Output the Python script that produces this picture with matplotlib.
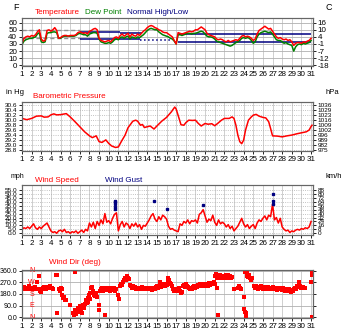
import numpy as np
import matplotlib.pyplot as plt

plt.rcParams['font.family'] = ['Liberation Sans', 'DejaVu Sans']

days = list(range(1, 32))

# temperature / dew point (F), every 0.2 day from day 1.0 to 31.0
temp_day = np.round(np.arange(1, 31.01, 0.2), 1)
temp_f = [
    31, 38, 40, 41, 40,  # 1
    42, 41, 43, 47, 50,  # 2
    37, 34, 35, 49, 50,  # 3
    48, 50, 53, 49, 38,  # 4
    39, 41, 42, 42, 41,  # 5
    42, 42, 42, 43, 46,  # 6
    47, 46, 45, 46, 44,  # 7
    48, 49, 51, 52, 50,  # 8
    38, 35, 34, 33, 34,  # 9
    35, 33, 36, 39, 40,  # 10
    38, 42, 44, 41, 43,  # 11
    45, 40, 44, 42, 41,  # 12
    44, 42, 45, 48, 50,  # 13
    53, 55, 56, 55, 53,  # 14
    52, 50, 49, 47, 46,  # 15
    46, 44, 42, 40, 35,  # 16
    30, 46, 45, 44, 45,  # 17
    46, 47, 48, 47, 48,  # 18
    50, 50, 52, 54, 52,  # 19
    50, 45, 43, 42, 41,  # 20
    40, 37, 36, 37, 36,  # 21
    34, 33, 35, 33, 34,  # 22
    35, 36, 35, 38, 41,  # 23
    42, 40, 41, 40, 38,  # 24
    35, 37, 44, 49, 51,  # 25
    53, 55, 53, 51, 52,  # 26
    48, 44, 40, 38, 39,  # 27
    37, 36, 37, 35, 36,  # 28
    33, 28, 31, 32, 32,  # 29
    31, 33, 32, 34, 35,  # 30
    38,
]
dew_f = [
    29, 34, 36, 37, 38,
    38, 39, 40, 44, 46,
    33, 32, 33, 45, 46,
    46, 47, 47, 46, 38,
    38, 40, 41, 41, 41,
    41, 41, 41, 42, 44,
    45, 44, 43, 43, 41,
    44, 45, 46, 46, 45,
    37, 33, 32, 31, 31,
    32, 31, 33, 36, 37,
    36, 39, 40, 38, 40,
    41, 37, 40, 39, 38,
    40, 39, 41, 43, 46,
    49, 51, 52, 51, 50,
    50, 47, 45, 43, 42,
    41, 40, 38, 37, 34,
    30, 43, 43, 42, 43,
    44, 45, 45, 44, 45,
    45, 46, 47, 48, 47,
    44, 41, 40, 40, 39,
    37, 34, 33, 32, 31,
    30, 29, 28, 27, 28,
    30, 32, 33, 35, 38,
    39, 38, 39, 38, 35,
    31, 33, 40, 44, 46,
    47, 48, 47, 46, 47,
    44, 40, 36, 35, 35,
    33, 31, 32, 30, 29,
    28, 20, 26, 29, 30,
    29, 31, 30, 31, 32,
    35,
]

# normal high/low segments
norm_start = [7, 11.2, 17.2]
norm_end = [11.2, 13.5, 31]
norm_high = [46.5, 45, 43.6]
normlow_start = [7, 13.2, 17.2]
normlow_end = [13.2, 16.5, 31]
norm_low = [36.6, 35.5, 33.2]
prev_start, prev_end = 1, 7
prev_high, prev_low = 49.5, 38.5

# barometric pressure (in Hg)
press_day = [1, 1.5, 2, 2.5, 3, 3.3, 3.7, 4, 4.3, 4.6, 5, 5.3, 5.6, 6, 6.5,
             7, 7.5, 8, 8.3, 8.7, 9, 9.3, 9.7, 10, 10.3, 10.7, 11, 11.3, 11.7, 12,
             12.5, 12.8, 13, 13.3, 13.5, 13.7, 14, 14.3, 14.7, 15, 15.5, 16, 16.5, 16.85, 17,
             17.3, 17.5, 17.8, 18, 18.3, 18.7, 19, 19.3, 19.6, 20, 20.3, 20.7, 21, 21.3, 21.7,
             22, 22.5, 22.8, 23, 23.2, 23.4, 23.6, 23.8, 24, 24.2, 24.5, 24.8, 25, 25.3, 25.6,
             26, 26.3, 26.6, 26.8, 27, 27.5, 28, 28.5, 29, 29.5, 30, 30.5, 30.8, 31, 31.1]
press_inhg = [30.05, 30.0, 30.05, 30.14, 30.15, 30.10, 30.11, 30.19, 30.23, 30.19, 30.20, 30.22, 30.24, 30.11, 29.92,
              29.72, 29.52, 29.36, 29.29, 29.36, 29.13, 29.10, 29.20, 29.06, 28.96, 28.90, 28.92, 29.13, 29.39, 29.68,
              29.94, 29.98, 29.94, 29.78, 29.81, 29.69, 29.72, 29.75, 29.63, 29.75, 29.94, 30.09, 30.31, 30.50, 30.42,
              30.05, 29.80, 29.78, 29.88, 29.98, 29.97, 29.98, 29.85, 29.75, 29.85, 29.82, 29.84, 29.76, 29.85, 29.98,
              30.05, 30.05, 30.11, 30.05, 29.78, 29.39, 29.13, 29.05, 29.19, 29.59, 29.98, 30.11, 30.18, 30.21, 30.14,
              30.09, 30.07, 29.92, 29.65, 29.36, 29.35, 29.32, 29.36, 29.39, 29.44, 29.48, 29.52, 29.59, 29.73, 29.78]

# wind speed (mph), every 0.2 day
wind_day = np.round(np.arange(1, 31.01, 0.2), 1)
wind_mph = [
    5, 7, 6, 8, 6,
    9, 12, 7, 5, 8,
    6, 9, 11, 13, 8,
    3, 1, 2, 0, 3,
    4, 2, 5, 1, 2,
    0, 2, 1, 3, 0,
    2, 4, 1, 5, 3,
    13, 8, 14, 6, 15,
    10, 17, 12, 25, 14,
    16, 12, 19, 24, 26,
    3, 11, 15, 8, 13,
    11, 6, 12, 9, 13,
    8, 11, 5, 10, 9,
    13, 17, 22, 25, 18,
    15, 21, 17, 23, 21,
    18, 9, 5, 6, 4,
    3, 2, 12, 10, 15,
    13, 17, 12, 16, 15,
    17, 13, 24, 26, 30,
    22, 14, 18, 16, 23,
    14, 10, 17, 12, 14,
    12, 8, 11, 6, 9,
    3, 6, 9, 14, 19,
    12, 8, 11, 6, 9,
    11, 6, 13, 17, 15,
    19, 22, 17, 23, 21,
    37, 17, 20, 13, 19,
    8, 5, 3, 4, 1,
    3, 2, 4, 5, 4,
    6, 5, 7, 6, 8,
    15,
]
gust_day = [10.6, 10.6, 10.6, 10.6, 10.6, 14.7, 16.0, 19.75, 27.1, 27.1, 27.1]
gust_mph = [41.5, 39.4, 36.9, 33.9, 31.4, 41.5, 30.5, 36, 50, 41.5, 37]

# wind direction (deg)
dir_day = [1.0, 1.1, 1.2, 1.3, 1.4, 1.5, 1.6, 1.7, 1.8, 1.9, 2.0, 2.1, 2.2, 2.3, 2.4, 2.5, 2.6, 2.7, 2.8, 2.9,
           3.0, 3.1, 3.2, 3.3, 3.4, 3.5, 3.6, 3.7, 3.8, 3.9, 4.0, 4.1, 4.2, 4.55, 4.6, 4.65, 4.8, 4.9,
           5.0, 5.1, 5.2, 5.3, 5.4, 5.5, 5.6, 6.0, 6.3, 6.35, 6.5, 6.55, 6.6, 6.7, 6.8, 6.9,
           7.0, 7.1, 7.2, 7.3, 7.4, 7.5, 7.6, 7.7, 7.8, 7.9, 8.0, 8.05, 8.1, 8.2, 8.3, 8.4, 8.5, 8.6, 8.7, 8.8,
           8.95, 9.0, 9.1, 9.2, 9.3, 9.4, 9.5, 9.6, 9.7, 9.8, 9.9, 10.0, 10.1, 10.2, 10.3, 10.4, 10.5, 10.6, 10.7, 10.8,
           11.0, 11.05, 11.2, 11.3, 11.4, 11.5, 11.6, 11.7, 11.8, 11.9, 12.0, 12.1, 12.2, 12.3, 12.4, 12.5, 12.6, 12.7,
           12.8, 12.9, 13.0, 13.1, 13.2, 13.3, 13.4, 13.5, 13.6, 13.7, 13.8, 13.9, 14.0, 14.1, 14.2, 14.3, 14.4, 14.5,
           14.6, 14.7, 14.8, 14.9, 15.0, 15.1, 15.2, 15.3, 15.4, 15.5, 15.6, 15.7, 15.8, 15.9, 16.0, 16.1, 16.2, 16.3,
           16.4, 16.5, 16.6, 16.7, 16.8,
           17.0, 17.1, 17.2, 17.3, 17.4, 17.5, 17.6, 17.7, 17.8, 17.9, 18.0, 18.1, 18.2, 18.3, 18.4, 18.5, 18.6, 18.7,
           18.8, 18.9, 19.0, 19.1, 19.2, 19.3, 19.4, 19.5, 19.6, 19.7, 19.8, 19.9, 20.0, 20.1, 20.2, 20.3, 20.4, 20.5,
           20.6, 20.7, 20.8, 20.9, 21.0, 21.05, 21.1, 21.2, 21.25, 21.3, 21.4, 21.5, 21.6, 21.7, 21.8, 21.9, 22.0, 22.1,
           22.2, 22.3, 22.4, 22.5, 22.6, 22.7, 22.8, 23.0, 23.4, 23.5, 23.6, 23.7, 24.0, 24.05, 24.1, 24.15, 24.2, 24.25,
           24.3, 24.35, 24.4, 24.5, 24.6, 24.7, 24.8, 24.9, 25.1, 25.2, 25.3, 25.4, 25.5, 25.6, 25.7, 25.8, 25.9, 26.0,
           26.1, 26.2, 26.3, 26.4, 26.5, 26.6, 26.7, 26.8, 26.9, 27.0, 27.1, 27.2, 27.3, 27.4, 27.5, 27.6, 27.7, 27.8,
           27.9, 28.0, 28.1, 28.2, 28.3, 28.4, 28.5, 28.6, 28.7, 28.8, 28.9, 29.0, 29.1, 29.2, 29.3, 29.4, 29.5, 29.6,
           29.7, 29.8, 30.0, 30.1, 30.2, 30.3, 30.4, 31.0, 31.05, 31.1, 31.12]
dir_deg = [230, 220, 235, 225, 215, 230, 225, 240, 220, 230, 225, 215, 230, 225, 235, 220, 275, 215, 320, 200,
           195, 215, 225, 235, 230, 220, 235, 225, 230, 240, 225, 230, 220, 330, 325, 30, 220, 205,
           230, 215, 170, 150, 160, 135, 130, 95, 35, 15, 55, 350, 25, 45, 70, 40,
           85, 60, 30, 95, 75, 100, 130, 110, 150, 120, 170, 140, 190, 225, 235, 200, 175, 165, 185, 160,
           60, 95, 200, 215, 225, 205, 215, 20, 225, 210, 230, 220, 200, 215, 225, 210, 230, 220, 205, 215,
           170, 145, 240, 260, 250, 270, 290, 300, 285, 320, 305, 295, 250, 240, 230, 245, 225, 235,
           220, 230, 225, 215, 230, 220, 225, 235, 220, 230, 215, 225, 220, 230, 215, 225, 220, 210,
           225, 230, 220, 235, 240, 230, 245, 270, 235, 250, 240, 255, 245, 260, 250, 280, 300, 285,
           265, 255, 240, 215, 205,
           220, 205, 215, 230, 200, 185, 195, 240, 250, 235, 260, 245, 235, 225, 215, 230, 220, 235,
           225, 240, 230, 245, 235, 250, 240, 255, 245, 250, 260, 245, 255, 250, 260, 245, 265, 250,
           255, 265, 260, 270, 320, 260, 335, 305, 225, 15, 310, 325, 300, 315, 305, 320, 310, 300,
           325, 315, 330, 305, 320, 300, 310, 215, 225, 240, 230, 220, 160, 65, 350, 40, 30, 5,
           340, 330, 320, 310, 325, 300, 290, 305, 240, 225, 245, 230, 220, 235, 225, 240, 230, 220,
           235, 225, 230, 220, 235, 225, 215, 230, 220, 235, 225, 215, 230, 220, 210, 225, 215, 230,
           220, 210, 225, 215, 205, 220, 210, 200, 215, 205, 195, 210, 200, 220, 230, 215, 245, 235,
           275, 240, 230, 225, 235, 230, 225, 270, 345, 330, 5]

compass = ['N', 'E', 'S', 'W', 'N']
compass_deg = [0, 90, 180, 270, 360]

red = '#ff0000'
green = '#008000'
navy = '#000080'

fig = plt.figure(figsize=(3.5, 3.36), dpi=100)
W, H = 350, 336


def make_axes(top, bottom):
    return fig.add_axes([22 / W, 1 - bottom / H, (313 - 22) / W, (bottom - top) / H])


def setup(ax, ylim, yticks, ylabels, rlabels, hstyle, lsize=5.5):
    ax.set_xlim(1, 31.2)
    ax.set_ylim(*ylim)
    ax.set_xticks(days)
    ax.set_xticklabels([str(d) for d in days], fontsize=5.8)
    ax.set_yticks(yticks)
    ax.set_yticklabels(ylabels, fontsize=lsize)
    for d in days[1:]:
        ax.axvline(d, color='#c8c8c8', lw=0.6, zorder=0)
    for y in yticks:
        ax.axhline(y, color='#b0b0b0', lw=0.6, ls=hstyle, zorder=0)
    ax.tick_params(length=2, width=0.6, pad=1.5)
    for s in ax.spines.values():
        s.set_color('#666666')
        s.set_linewidth(0.8)
    tw = ax.twinx()
    tw.set_ylim(*ylim)
    tw.set_yticks(yticks)
    tw.set_yticklabels(rlabels, fontsize=lsize)
    tw.tick_params(length=2, width=0.6, pad=1.5)
    for s in tw.spines.values():
        s.set_color('#666666')
        s.set_linewidth(0.8)


def label(x, y, s, color='black', size=6.0):
    fig.text(x / W, 1 - y / H, s, color=color, fontsize=size, va='center', ha='left')


# temperature
ax1 = make_axes(18, 66)
f_ticks = [0, 10, 20, 30, 40, 50, 60]
setup(ax1, (-1, 66.6), f_ticks, [str(v) for v in f_ticks],
      [str(round((v - 32) / 1.8)) for v in f_ticks], '-', 5.8)
ax1.hlines([prev_high, prev_low], prev_start, prev_end, color='#909090', lw=1, ls=(0, (3, 2)))
ax1.hlines(norm_high, norm_start, norm_end, color=navy, lw=1.1)
ax1.hlines(norm_low[:1] + norm_low[2:], normlow_start[:1] + normlow_start[2:],
           normlow_end[:1] + normlow_end[2:], color=navy, lw=1.1)
ax1.hlines(norm_low[1], normlow_start[1], normlow_end[1], color=navy, lw=1.1, ls=':')
ax1.plot(temp_day, dew_f, color=green, lw=1.1)
ax1.plot(temp_day, temp_f, color=red, lw=1.1)
label(13, 7, 'F', size=6.5)
label(326, 7, 'C', size=6.5)
label(35, 13, 'Temperature', red, 5.8)
label(85, 13, 'Dew Point', green, 5.8)
label(127, 13, 'Normal High/Low', navy, 5.8)

# pressure
ax2 = make_axes(102, 151)
p_ticks = [28.8, 29.0, 29.2, 29.4, 29.6, 29.8, 30.0, 30.2, 30.4, 30.6]
setup(ax2, (28.76, 30.70), p_ticks, ['%.1f' % v for v in p_ticks],
      [str(round(v * 33.8639)) for v in p_ticks], ':', 4.6)
ax2.plot(press_day, press_inhg, color=red, lw=1.1)
label(6, 92, 'in Hg', size=5.5)
label(325, 92, 'hPa', size=5.5)
label(33, 96, 'Barometric Pressure', red, 5.8)

# wind speed
ax3 = make_axes(185, 235)
w_ticks = list(range(0, 60, 5))
setup(ax3, (-2.2, 61.3), w_ticks, ['%.1f' % v for v in w_ticks],
      [str(int(v * 1.609344)) for v in w_ticks], ':', 4.6)
ax3.plot(wind_day, wind_mph, color=red, lw=1.1)
ax3.plot(gust_day, gust_mph, 's', color=navy, ms=2)
label(11, 177, 'mph', size=5)
label(326, 177, 'km/h', size=5.5)
label(35, 180, 'Wind Speed', red, 5.8)
label(105, 180, 'Wind Gust', navy, 5.8)

# wind direction
ax4 = make_axes(270, 318)
d_ticks = [0, 90, 180, 270, 360]
setup(ax4, (-5, 365), d_ticks, ['%.1f' % v for v in d_ticks], ['' for v in d_ticks], '-', 5)
ax4.plot(dir_day, dir_deg, 's', color=red, ms=2.2, mew=0)
for c, dg in zip(compass, compass_deg):
    ax4.text(2, dg, c, color=red, fontsize=5, ha='center', va='center')
label(49, 262, 'Wind Dir (deg)', red, 5.8)

fig.savefig('out.png', dpi=100)
